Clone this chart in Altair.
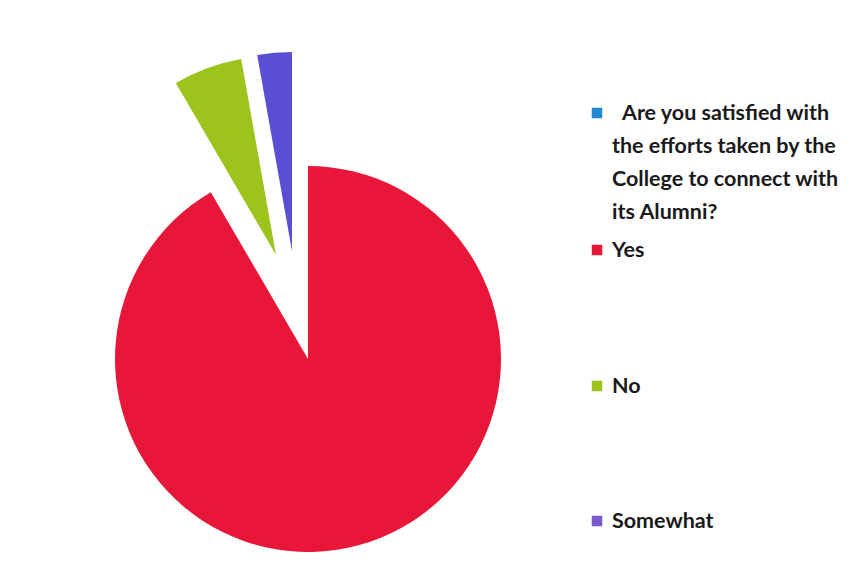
import math
import altair as alt
import pandas as pd

# ---- data ----
categories = ["Yes", "No", "Somewhat"]
values = [91.6, 5.6, 2.8]
slice_colors = ["#E8173A", "#9DC41C", "#5A4FD3"]

legend_title_lines = ["Are you satisfied with", "the efforts taken by the",
                      "College to connect with", "its Alumni?"]
legend_title_color = "#1F8AD2"
legend_colors = ["#E8173A", "#9DC41C", "#7A5ACB"]

df = pd.DataFrame({"category": categories, "value": values, "order": list(range(len(categories)))})
total = float(sum(values))

# ---- layout (style) ----
CX, CY, R = 300, 351, 193
explode = {"Yes": (0, 0), "No": (-32, -104), "Somewhat": (-16, -108)}
FONT = "Lato"
FS = 21.5

base = alt.Chart(df).transform_window(
    cum="sum(value)", sort=[alt.SortField("order")], frame=[None, 0]
).transform_calculate(start="datum.cum - datum.value")

layers = []
for cat, col in zip(categories, slice_colors):
    dx, dy = explode[cat]
    rad = R if cat == "Yes" else R + 6
    layers.append(
        base.transform_filter(alt.datum.category == cat)
        .mark_arc(radius=rad, color=col)
        .encode(
            theta=alt.Theta("start:Q", scale=alt.Scale(domain=[0, total], range=[0, 2 * math.pi])),
            theta2="cum:Q",
            x=alt.value(CX + dx),
            y=alt.value(CY + dy),
        )
    )

one = pd.DataFrame({"k": [0]})
LX, TX = 589, 604
# title entry
layers.append(alt.Chart(one).mark_square(size=110, color=legend_title_color, opacity=1)
              .encode(x=alt.value(LX), y=alt.value(105)))
for i, line in enumerate(legend_title_lines):
    layers.append(
        alt.Chart(pd.DataFrame({"t": [line]}))
        .mark_text(align="left", baseline="middle", font=FONT, fontSize=FS, fontWeight="bold",
                   color="#1a1a1a", dx=10 if i == 0 else 0)
        .encode(text="t:N", x=alt.value(TX), y=alt.value(106 + i * 33))
    )
entry_y = [242, 378, 513]
for lab, col, yy in zip(categories, legend_colors, entry_y):
    layers.append(alt.Chart(one).mark_square(size=110, color=col, opacity=1)
                  .encode(x=alt.value(LX), y=alt.value(yy)))
    layers.append(
        alt.Chart(pd.DataFrame({"t": [lab]}))
        .mark_text(align="left", baseline="middle", font=FONT, fontSize=FS, fontWeight="bold",
                   color="#1a1a1a")
        .encode(text="t:N", x=alt.value(TX), y=alt.value(yy + 1))
    )

chart = alt.layer(*layers).properties(
    width=849, height=567, autosize="none", padding=0, background="white"
).configure_view(stroke=None)

chart.save("out.html", embed_options={"renderer": "svg", "actions": False})
